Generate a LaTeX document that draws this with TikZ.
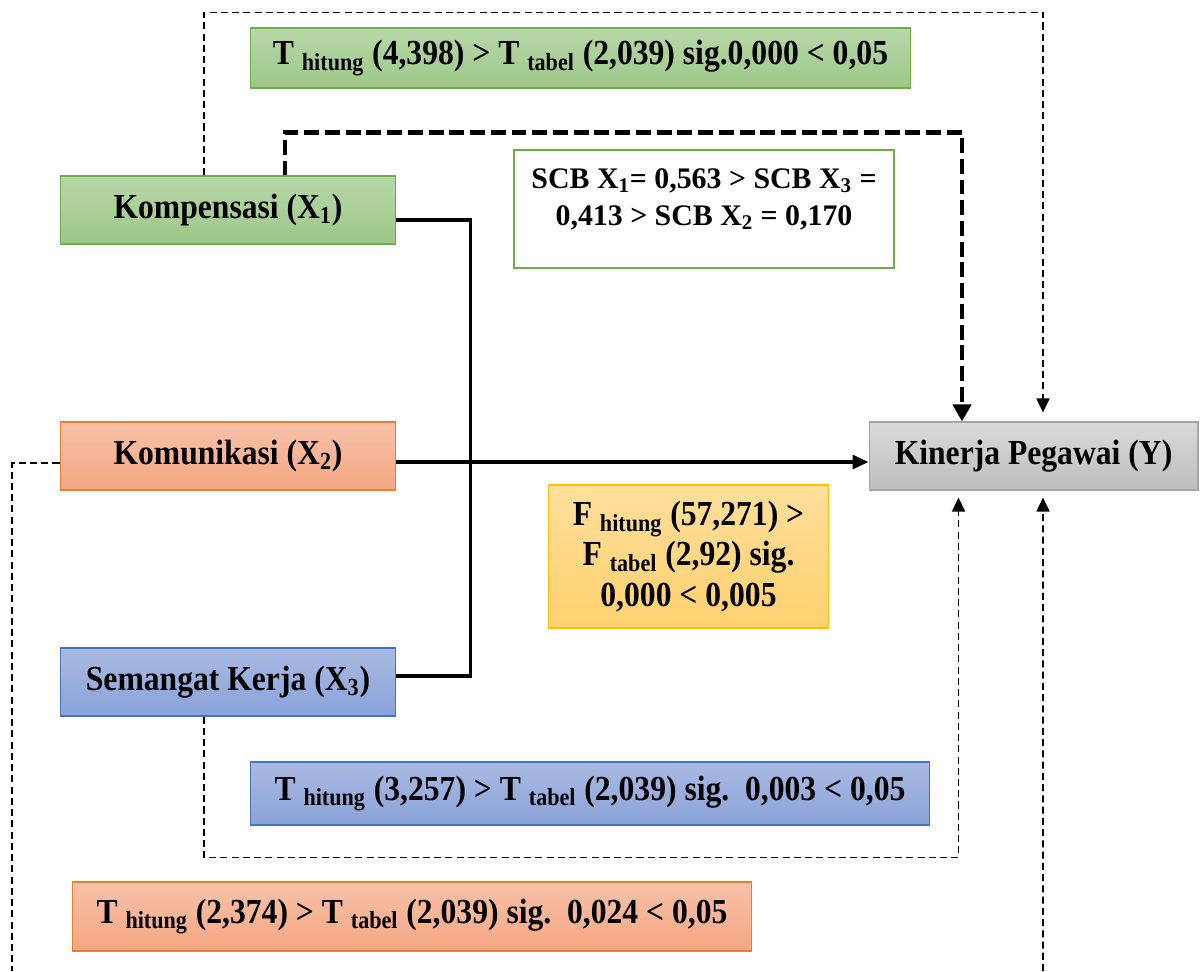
\documentclass[tikz,border=0pt]{standalone}
\usepackage{fontspec}
\setmainfont{Liberation Serif}[FakeStretch=0.9]
\newfontfamily\scbfont{Liberation Serif}
\usetikzlibrary{arrows.meta}
\definecolor{gT}{RGB}{183,216,168}\definecolor{gB}{RGB}{157,199,135}\definecolor{gD}{RGB}{112,173,71}
\definecolor{oT}{RGB}{248,194,169}\definecolor{oB}{RGB}{244,166,130}\definecolor{oD}{RGB}{237,125,49}
\definecolor{bT}{RGB}{170,186,226}\definecolor{bB}{RGB}{138,162,217}\definecolor{bD}{RGB}{68,114,196}
\definecolor{yT}{RGB}{255,223,156}\definecolor{yB}{RGB}{255,209,110}\definecolor{yD}{RGB}{255,192,0}
\definecolor{sT}{RGB}{217,217,217}\definecolor{sB}{RGB}{190,190,190}\definecolor{sD}{RGB}{165,165,165}
\tikzset{
  box/.style={rectangle,line width=.6pt,inner sep=0pt,align=center,
    font=\fontsize{20}{23}\selectfont\bfseries},
  var/.style={box,minimum width=6.72cm,minimum height=1.36cm},
  tbox/.style={box,minimum width=13.6cm},
  green/.style={draw=gD,top color=gT,bottom color=gB},
  orange/.style={draw=oD,top color=oT,bottom color=oB},
  blue/.style={draw=bD,top color=bT,bottom color=bB},
  yellow/.style={draw=yD,top color=yT,bottom color=yB},
  grey/.style={draw=sD,top color=sT,bottom color=sB},
  solid line/.style={line width=1.8pt},
  fine/.style={line width=.95pt,dash pattern=on 4pt off 2.4pt},
  heavy/.style={line width=2.6pt,dash pattern=on 8.5pt off 3.3pt},
  tip/.style={-{Triangle[length=.28cm,width=.26cm]}}
}
\begin{document}
\begin{tikzpicture}[x=0.02cm,y=-0.02cm]
  \useasboundingbox (0,0) rectangle (1203,971);
  \node[var,green] (K) at (228,210) {Kompensasi (X\textsubscript{1})};
  \node[var,orange] (M) at (228,456) {Komunikasi (X\textsubscript{2})};
  \node[var,blue] (S) at (228,682) {Semangat Kerja (X\textsubscript{3})};
  \node[box,grey,minimum width=6.58cm,minimum height=1.36cm] (Y) at (1033.5,456) {Kinerja Pegawai (Y)};
  \node[tbox,green,minimum width=13.2cm,minimum height=1.2cm] (T1) at (580.5,58)
    {T \textsubscript{hitung} (4,398) > T \textsubscript{tabel} (2,039) sig.0,000 < 0,05};
  \node[box,draw=gD,line width=1.2pt,fill=white,minimum width=7.6cm,minimum height=2.36cm] (B) at (704,209) {};
  \node[align=center,inner sep=0pt,font=\scbfont\fontsize{17}{21}\selectfont\bfseries] (b) at ([yshift=.2cm]B)
    {SCB X\textsubscript{1}= 0,563 > SCB X\textsubscript{3} =\\0,413 > SCB X\textsubscript{2} = 0,170};
  \node[box,yellow,minimum width=5.6cm,minimum height=2.86cm] (F) at (688.5,556.5)
    {F \textsubscript{hitung} (57,271) >\\F \textsubscript{tabel} (2,92) sig.\\0,000 < 0,005};
  \node[tbox,blue,minimum height=1.26cm] (T3) at (590,793.5)
    {T \textsubscript{hitung} (3,257) > T \textsubscript{tabel} (2,039) sig.~~0,003 < 0,05};
  \node[tbox,orange,minimum height=1.38cm] (T2) at (412,916.5)
    {T \textsubscript{hitung} (2,374) > T \textsubscript{tabel} (2,039) sig.~~0,024 < 0,05};
  \coordinate (c1) at (12,971);
  \coordinate (c2) at (1043,971);
  \draw[solid line] ([yshift=-.2cm]K.east) -- ++(74,0) |- ([yshift=.12cm]S.east);
  \draw[solid line,-{Triangle[length=.32cm,width=.28cm]}] ([yshift=-.12cm]M.east) -- ([yshift=-.12cm]Y.west);
  \draw[fine,tip] ([xshift=-.48cm]K.north) -- ++(0,-163) -| ([xshift=.19cm,yshift=.18cm]Y.north);
  \draw[heavy,-{Triangle[length=.34cm,width=.36cm]}] ([xshift=1.14cm]K.north) -- ++(0,-43) -| ([xshift=-1.43cm]Y.north);
  \draw[fine,tip] ([xshift=-.48cm]S.south) -- ++(0,141) -| ([xshift=-1.5cm,yshift=-.14cm]Y.south);
  \draw[fine] ([yshift=-.14cm]M.west) -| (c1);
  \draw[fine,tip] (c2) -- ([xshift=.19cm,yshift=-.14cm]Y.south);
\end{tikzpicture}
\end{document}
